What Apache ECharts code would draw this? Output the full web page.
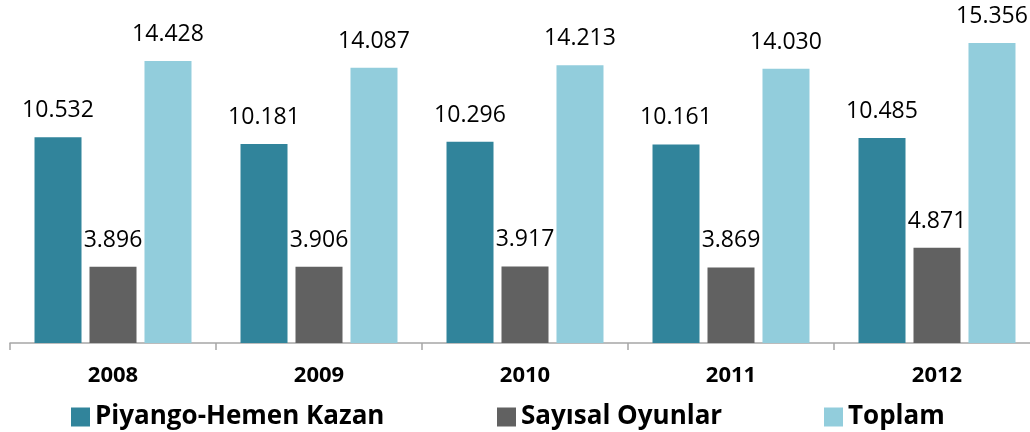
<!DOCTYPE html>
<html>
<head>
<meta charset="utf-8">
<script src="https://cdn.jsdelivr.net/npm/echarts@6/dist/echarts.min.js"></script>
<style>
  html, body { margin: 0; padding: 0; background: #fff; }
  #main { width: 1030px; height: 432px; }
</style>
</head>
<body>
<div id="main"></div>
<script>
var years = ['2008', '2009', '2010', '2011', '2012'];
var piyango = [10.532, 10.181, 10.296, 10.161, 10.485];
var sayisal = [3.896, 3.906, 3.917, 3.869, 4.871];
var toplam = [14.428, 14.087, 14.213, 14.030, 15.356];

var names = ['Piyango-Hemen Kazan', 'Sayısal Oyunlar', 'Toplam'];
var colors = ['#31849B', '#616161', '#92CDDC'];

var chart = echarts.init(document.getElementById('main'));

var labelStyle = {
  show: true,
  position: 'top',
  distance: 15,
  fontFamily: 'Open Sans',
  fontSize: 23,
  color: '#000',
  formatter: function (p) { return p.value.toFixed(3); }
};

function legendAt(i, left) {
  return {
    data: [names[i]],
    left: left,
    top: 399,
    itemWidth: 19,
    itemHeight: 19,
    icon: 'rect',
    itemGap: 0,
    textStyle: { fontFamily: 'Open Sans', fontWeight: 'bold', fontSize: 26, color: '#000' }
  };
}

var option = {
  animation: false,
  color: colors,
  legend: [legendAt(0, 66), legendAt(1, 492), legendAt(2, 819)],
  grid: { left: 10, width: 1030, top: 0, bottom: 89, outerBoundsMode: 'none', containLabel: false },
  xAxis: {
    type: 'category',
    data: years,
    axisLine: { lineStyle: { color: '#a6a6a6', width: 1.5 } },
    axisTick: { show: true, length: 7, lineStyle: { color: '#a6a6a6', width: 1.5 } },
    axisLabel: { margin: 22, fontFamily: 'Open Sans', fontWeight: 'bold', fontSize: 22, color: '#000' }
  },
  yAxis: {
    type: 'value',
    min: 0,
    max: 17.55,
    show: false,
    splitLine: { show: false }
  },
  series: [
    { name: names[0], type: 'bar', data: piyango, barWidth: 47, barGap: '17%', label: labelStyle },
    { name: names[1], type: 'bar', data: sayisal, barWidth: 47, barGap: '17%', label: labelStyle },
    { name: names[2], type: 'bar', data: toplam, barWidth: 47, barGap: '17%', label: labelStyle }
  ]
};

chart.setOption(option);
</script>
</body>
</html>
